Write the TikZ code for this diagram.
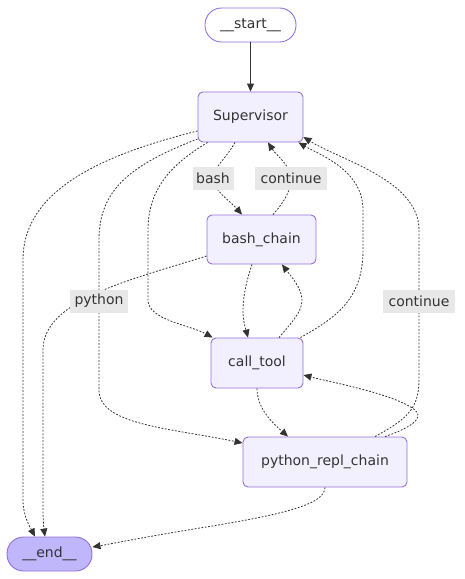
\documentclass[tikz,border=0pt]{standalone}
\usepackage{fontspec}
\setmainfont{DejaVu Sans}
\usetikzlibrary{calc,arrows.meta}
\definecolor{nodefill}{HTML}{F2F0FF}
\definecolor{nodestroke}{HTML}{9370DB}
\definecolor{endfill}{HTML}{BFB6FC}
\definecolor{txt}{HTML}{333333}
\definecolor{lblbg}{HTML}{E8E8E8}
\tikzset{
  box/.style={draw=nodestroke, fill=nodefill, rounded corners=5pt, line width=0.9pt,
    inner sep=0pt, text=txt, font=\fontsize{14}{16}\selectfont},
  stadium/.style={box, rounded corners=16.5pt},
  edg/.style={draw=txt, line width=0.8pt, dash pattern=on 1.8pt off 1.6pt,
    -{Triangle[length=8pt,width=7pt]}},
  solidedg/.style={draw=txt, line width=0.9pt, -{Triangle[length=8pt,width=7pt]}},
  lbl/.style={fill=lblbg, text=txt, inner sep=0pt, minimum height=23pt,
    font=\fontsize{14}{16}\selectfont},
}
\begin{document}
\begin{tikzpicture}[x=1pt,y=-1pt]
\useasboundingbox[fill=white] (0,0) rectangle (464,579);
% nodes
\node[stadium, fill=white, minimum width=91pt, minimum height=34pt] (start) at (250.5,25) {\_\_start\_\_};
\node[box, minimum width=105pt, minimum height=50pt] (sup) at (250.5,117) {Supervisor};
\node[box, minimum width=109pt, minimum height=49pt] (bash) at (261.5,239.5) {bash\_chain};
\node[box, minimum width=92pt, minimum height=50pt] (ct) at (257,363) {call\_tool};
\node[box, minimum width=164pt, minimum height=50pt] (py) at (325,462) {python\_repl\_chain};
\node[stadium, fill=endfill, minimum width=85pt, minimum height=34pt] (end) at (49.5,554) {\_\_end\_\_};
% edges
\draw[solidedg] (start.south) -- (sup.north);
% Supervisor -> bash_chain (bash)
\draw[edg] ($(sup.south)+(-15.5,0)$) .. controls (225,160) and (213,168) .. (213,178)
  .. controls (213,190) and (230,201) .. ($(bash.north)+(-19.5,0)$);
% bash_chain -> Supervisor (continue)
\draw[edg] ($(bash.north)+(11.5,0)$) .. controls (285,201) and (291,190) .. (291,178)
  .. controls (291,166) and (276,155) .. ($(sup.south)+(17.5,0)$);
% Supervisor -> __end__
\draw[edg] ($(sup.west)+(0,14)$) .. controls (80,160) and (23,200) .. (23,260)
  -- (23,500) .. controls (23,516) and (30,527) .. ($(end.north)+(-14.5,0)$);
% Supervisor -> python_repl_chain (python)
\draw[edg] ($(sup.west)+(0,22)$) .. controls (130,165) and (99,190) .. (99,240)
  -- (99,390) .. controls (99,425) and (170,428) .. ($(py.west)+(0,-19)$);
% Supervisor -> call_tool
\draw[edg] ($(sup.south west)+(10,0)$) .. controls (170,165) and (148,190) .. (148,230)
  -- (148,300) .. controls (148,320) and (190,325) .. ($(ct.north west)+(2,0)$);
% bash_chain -> __end__
\draw[edg] ($(bash.west)+(0,16.5)$) .. controls (130,280) and (43,300) .. (43,350)
  -- (43,510) .. controls (43,520) and (44,530) .. ($(end.north)+(-4.5,0)$);
% bash_chain -> call_tool
\draw[edg] ($(bash.south)+(-9.5,0)$) .. controls (245,285) and (243,300) .. (243,310)
  .. controls (243,322) and (246,330) .. ($(ct.north)+(-9,0)$);
% call_tool -> bash_chain
\draw[edg] ($(ct.north)+(22,0)$) .. controls (292,322) and (302,312) .. (302,300)
  .. controls (302,288) and (290,275) .. ($(bash.south)+(20.5,0)$);
% call_tool -> Supervisor
\draw[edg] ($(ct.north east)+(-3,0)$) .. controls (335,318) and (363,300) .. (363,250)
  -- (363,210) .. controls (363,170) and (320,155) .. ($(sup.south east)+(-5,0)$);
% python_repl_chain -> Supervisor (continue)
\draw[edg] ($(py.north)+(50,0)$) .. controls (405,420) and (419,410) .. (419,380)
  -- (419,230) .. controls (419,180) and (340,160) .. ($(sup.east)+(0,20)$);
% python_repl_chain -> call_tool
\draw[edg] ($(py.north)+(60,0)$) .. controls (410,428) and (425,418) .. (415,410)
  .. controls (395,394) and (330,382) .. ($(ct.east)+(0,12)$);
% call_tool -> python_repl_chain
\draw[edg] (ct.south) .. controls (257,410) and (275,425) .. ($(py.north)+(-37,0)$);
% python_repl_chain -> __end__
\draw[edg] (py.south) .. controls (325,505) and (280,515) .. (200,528)
  .. controls (150,536) and (110,544) .. ($(end.east)+(0,-7)$);
% edge labels
\node[lbl, minimum width=41pt] (lbash) at (213,178) {bash};
\node[lbl, minimum width=72pt] (lcont1) at (291,178) {continue};
\node[lbl, minimum width=58pt] (lpy) at (99,301) {python};
\node[lbl, minimum width=72pt] (lcont2) at (419,301) {continue};
\end{tikzpicture}
\end{document}
